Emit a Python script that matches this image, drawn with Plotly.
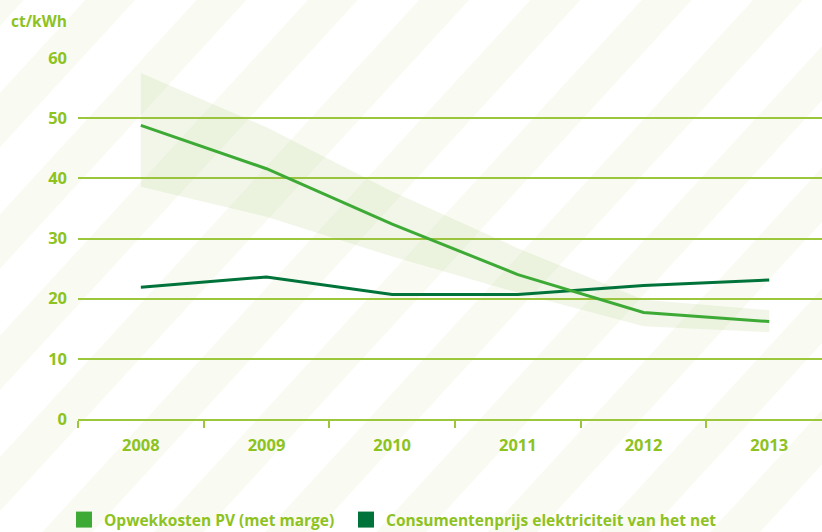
import plotly.graph_objects as go

# ---- data ----
years = ["2008", "2009", "2010", "2011", "2012", "2013"]
pv_cost = [48.8, 41.6, 32.4, 24.0, 17.7, 16.2]
pv_upper = [57.5, 48.5, 37.8, 28.4, 19.8, 18.1]
pv_lower = [38.6, 33.6, 27.0, 21.0, 15.4, 14.4]
consumer_price = [21.9, 23.6, 20.7, 20.7, 22.2, 23.1]
y_ticks = [0, 10, 20, 30, 40, 50, 60]
series_names = ["Opwekkosten PV (met marge)", "Consumentenprijs elektriciteit van het net"]
y_title = "ct/kWh"

# ---- style ----
TXT = "#8dc21f"
GRID = "#9cc73c"
PV_COL = "#3daa35"
CON_COL = "#00733a"
FONT = "Open Sans"

W, H = 822, 532
L, R, T, B = 78, 0, 58, 113
pw, ph = W - L - R, H - T - B

fig = go.Figure()

# uncertainty band
fig.add_trace(go.Scatter(
    x=years + years[::-1], y=pv_upper + pv_lower[::-1],
    fill="toself", fillcolor="rgba(140,180,70,0.12)",
    line=dict(width=0), mode="lines", hoverinfo="skip", showlegend=False))

fig.add_trace(go.Scatter(x=years, y=consumer_price, mode="lines",
                         line=dict(color=CON_COL, width=3), showlegend=False))
fig.add_trace(go.Scatter(x=years, y=pv_cost, mode="lines",
                         line=dict(color=PV_COL, width=3), showlegend=False))

# legend entries (square markers), each in its own legend box
for name, col, lg in zip(series_names, [PV_COL, CON_COL], ["legend", "legend2"]):
    fig.add_trace(go.Scatter(x=[None], y=[None], mode="markers", name=name,
                             legend=lg,
                             marker=dict(symbol="square", size=16, color=col,
                                         line=dict(width=0))))

# background diagonal stripes (decoration)
def px2paper(x, y):
    return (x - L) / pw, (H - B - y) / ph

shapes = []
slope = 1.09
shift = H / slope
for j in range(14):
    x0 = -26.1 + 111.3 * j
    pts = [(x0, 0), (x0 + 50, 0), (x0 + 50 - shift, H), (x0 - shift, H)]
    pp = [px2paper(a, b) for a, b in pts]
    path = "M " + " L ".join(f"{a:.5f},{b:.5f}" for a, b in pp) + " Z"
    shapes.append(dict(type="path", path=path, xref="paper", yref="paper",
                       fillcolor="#f9fbf3", line=dict(width=0), layer="below"))

leg_font = dict(family=FONT, size=15.5, color=TXT, weight="bold")
leg_common = dict(orientation="h", xref="container", yref="container",
                  xanchor="left", yanchor="middle", y=1 - 520 / H,
                  bgcolor="rgba(0,0,0,0)", font=leg_font,
                  itemclick=False, itemdoubleclick=False)

fig.update_layout(
    width=W, height=H,
    margin=dict(l=L, r=R, t=T, b=B),
    paper_bgcolor="white", plot_bgcolor="rgba(0,0,0,0)",
    shapes=shapes,
    font=dict(family=FONT, color=TXT, size=15, weight="bold"),
    showlegend=True,
    legend=dict(x=64 / W, **leg_common),
    legend2=dict(x=346 / W, **leg_common),
    xaxis=dict(type="category", categoryorder="array", categoryarray=years,
               range=[-0.5, 5.42], showgrid=False, zeroline=False,
               showline=True, linecolor=GRID, linewidth=1.6,
               ticks="outside", tickson="boundaries", ticklen=7,
               tickcolor=GRID, tickwidth=1.6, tickangle=0, automargin=False,
               tickfont=dict(family=FONT, size=16.5, color=TXT, weight="bold"),
               ticklabelstandoff=10, fixedrange=True),
    yaxis=dict(range=[0, 60], tickvals=y_ticks, showgrid=True, automargin=False,
               gridcolor=GRID, gridwidth=1.6, zeroline=False, showline=False,
               tickfont=dict(family=FONT, size=16.5, color=TXT, weight="bold"),
               ticklabelstandoff=10, fixedrange=True),
    annotations=[dict(text=y_title, xref="paper", yref="paper",
                      x=px2paper(9, 0)[0], y=px2paper(0, 21)[1],
                      xanchor="left", yanchor="middle", showarrow=False,
                      font=dict(family=FONT, size=15.5, color=TXT, weight="bold"))],
)

fig.write_html("out.html")
